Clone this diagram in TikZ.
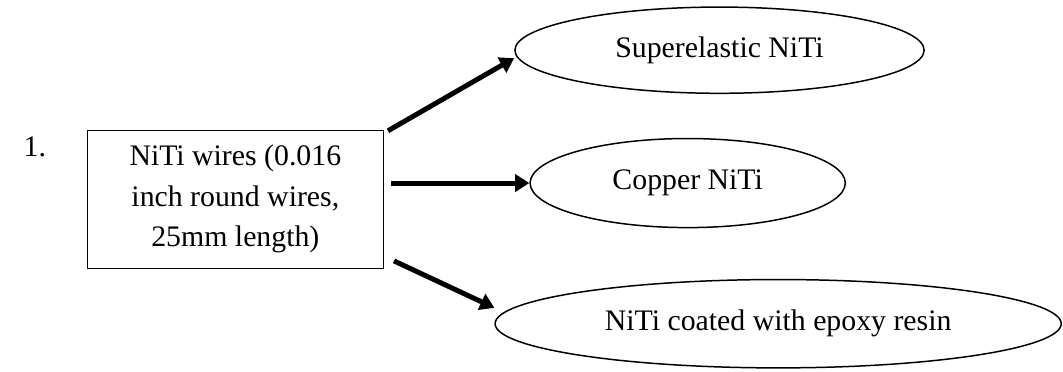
\documentclass[tikz,border=0pt]{standalone}
\usepackage{fontspec}
\setmainfont{Liberation Serif}
\usetikzlibrary{shapes.geometric,arrows.meta}
\begin{document}
\begin{tikzpicture}
            \tikzstyle{bulle}=[ellipse,draw,line width=0.6pt,inner sep=0pt,font=\fontsize{12}{16.3}\selectfont]
            \tikzstyle{cadre}=[rectangle,draw,line width=0.5pt,align=center,minimum width=4.19cm,minimum height=1.95cm,font=\fontsize{12}{16.3}\selectfont]
            \tikzstyle{fleche}=[line width=2pt,-{Triangle[length=0.2cm,width=0.24cm]}]
            \useasboundingbox (0,0) rectangle (15.04,-5.25);
            \node[anchor=base west,font=\fontsize{12}{16.3}\selectfont] (num) at (0.21,-2.22) {1.};
            \node[cadre] (boite) at (3.33,-2.82) {NiTi wires (0.016\\inch round wires,\\25mm length)};
            \node[bulle,minimum width=5.79cm,minimum height=1.22cm] (sup) at (10.18,-0.71) {Superelastic NiTi};
            \node[bulle,minimum width=4.46cm,minimum height=1.26cm] (cop) at (9.73,-2.59) {Copper NiTi};
            \node[bulle,minimum width=8.01cm,minimum height=1.25cm] (epo) at (11.01,-4.58) {NiTi coated with epoxy resin};
            \draw[fleche] ([xshift=1.6pt,yshift=-0.4pt]boite.north east) -- ([yshift=-3.2pt]sup.west);
            \draw[fleche] ([xshift=2.8pt]boite.east |- cop.west) -- (cop.west);
            \draw[fleche] ([xshift=4pt,yshift=3.2pt]boite.south east) -- ([yshift=6.4pt]epo.west);
\end{tikzpicture}
\end{document}
